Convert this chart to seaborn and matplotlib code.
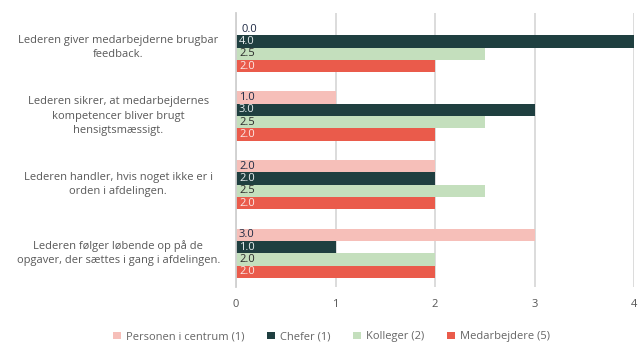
import matplotlib
matplotlib.use("Agg")
import matplotlib.pyplot as plt
import matplotlib.transforms as mtransforms
import seaborn as sns
import pandas as pd
from matplotlib.patches import Patch

categories = [
    "Lederen giver medarbejderne brugbar\nfeedback.",
    "Lederen sikrer, at medarbejdernes\nkompetencer bliver brugt\nhensigtsmæssigt.",
    "Lederen handler, hvis noget ikke er i\norden i afdelingen.",
    "Lederen følger løbende op på de\nopgaver, der sættes i gang i afdelingen.",
]
series = ["Personen i centrum (1)", "Chefer (1)", "Kolleger (2)", "Medarbejdere (5)"]
personen = [0.0, 1.0, 2.0, 3.0]
chefer = [4.0, 3.0, 2.0, 1.0]
kolleger = [2.5, 2.5, 2.5, 2.0]
medarbejdere = [2.0, 2.0, 2.0, 2.0]
xticks = [0, 1, 2, 3, 4]

colors = ["#F6BFB9", "#1F3F40", "#C4DFBD", "#EA5B4B"]
label_colors = ["#1f2a44", "#e8eef0", "#2b2b2b", "#fbe9e6"]

sns.set_theme(style="white")
plt.rcParams["font.family"] = ["Open Sans", "DejaVu Sans"]

rows = []
for s, vals in zip(series, [personen, chefer, kolleger, medarbejdere]):
    for c, v in zip(categories, vals):
        rows.append({"category": c, "series": s, "value": v})
df = pd.DataFrame(rows)

fig = plt.figure(figsize=(6.44, 3.51), dpi=100)
ax = fig.add_axes([0.3665, 0.181, 0.6180, 0.781])

sns.barplot(data=df, y="category", x="value", hue="series", hue_order=series,
            order=categories, palette=colors, orient="h", width=0.72,
            saturation=1, ax=ax, legend=False, errorbar=None, linewidth=0)

for i, cont in enumerate(ax.containers):
    for bar in cont:
        v = bar.get_width()
        off = 0.03 if v > 0 else 0.06
        ax.text(bar.get_x() + off, bar.get_y() + bar.get_height() / 2, f"{v:.1f}",
                va="center", ha="left", fontsize=8, color=label_colors[i])

ax.set_xlim(0, 4)
ax.set_ylim(3.5, -0.5)
ax.set_xticks(xticks)
ax.set_xticklabels([str(t) for t in xticks])
ax.set_xlabel("")
ax.set_ylabel("")
ax.grid(axis="x", color="#d9d9d9", linewidth=1.3)
ax.set_axisbelow(True)
for sp in ["top", "right", "bottom"]:
    ax.spines[sp].set_visible(False)
ax.spines["left"].set_color("#d0d0d0")
ax.spines["left"].set_linewidth(1.3)
ax.tick_params(axis="x", length=0, labelsize=8, labelcolor="#555555", pad=8)

# category labels centred in the left margin
ypos = list(ax.get_yticks())
labels = [t.get_text() for t in ax.get_yticklabels()]
ax.set_yticks(ypos)
ax.set_yticklabels([""] * len(ypos))
ax.tick_params(axis="y", which="major", length=0)
trans = mtransforms.blended_transform_factory(ax.transAxes, ax.transData)
for y, lab in zip(ypos, labels):
    ax.text(-0.296, y, lab, transform=trans, ha="center", va="center",
            multialignment="center", fontsize=8, color="#595959", linespacing=1.4)

ax.set_yticks([0.5, 1.5, 2.5], minor=True)
ax.tick_params(axis="y", which="minor", length=4, color="#d0d0d0", width=1)

handles = [Patch(facecolor=c, edgecolor="none") for c in colors]
fig.legend(handles, series, loc="center", bbox_to_anchor=(0.515, 0.04), ncol=4,
           frameon=False, fontsize=8, labelcolor="#666666", handlelength=0.7,
           handleheight=0.7, handletextpad=0.5, columnspacing=2.0)

fig.savefig("out.png", dpi=100)
